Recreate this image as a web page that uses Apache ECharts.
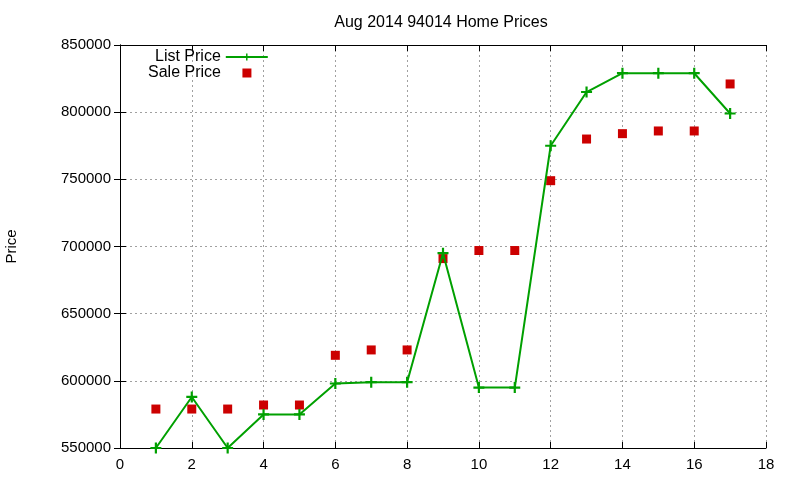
<!DOCTYPE html>
<html><head><meta charset="utf-8">
<script src="https://cdn.jsdelivr.net/npm/echarts@6/dist/echarts.min.js"></script>
<style>html,body{margin:0;padding:0;background:#fff}#c{width:800px;height:480px}</style>
</head><body><div id="c"></div>
<script>
const xs = [1,2,3,4,5,6,7,8,9,10,11,12,13,14,15,16,17];
const listPrice = [550000,588000,550000,575000,575000,598000,599000,599000,695000,595000,595000,775000,815000,829000,829000,829000,799000];
const salePrice = [579000,579000,579000,582000,582000,619000,623000,623000,691000,697000,697000,749000,780000,784000,786000,786000,821000];
const xTicks = {min:0, max:18, interval:2};
const yTicks = {min:550000, max:850000, interval:50000};

const font = 'Liberation Sans, Arial, sans-serif';
const plus = 'path://M-1,-5H1V-1H5V1H1V5H-1V1H-5V-1H-1Z';
const square = 'path://M0,0H1V1H0Z';
const chart = echarts.init(document.getElementById('c'), null, {renderer:'canvas'});
const axLine = {show:true, lineStyle:{color:'#000', width:1}};
const tick = {show:true, inside:true, length:6, lineStyle:{color:'#000'}};
chart.setOption({
  animation:false,
  title:{text:'Aug 2014 94014 Home Prices', left:436, top:10, textAlign:'center',
    textStyle:{fontFamily:font, fontSize:16, fontWeight:'normal', color:'#000'}},
  legend:[
    {data:[{name:'List Price'}], left:150, top:44, align:'right', itemWidth:42, itemHeight:9, itemGap:6, itemGap:7,
     textStyle:{fontFamily:font, fontSize:16, color:'#000'}},
    {data:[{name:'Sale Price', icon:square}], left:143, top:60, align:'right', itemWidth:42, itemHeight:9,
     textStyle:{fontFamily:font, fontSize:16, color:'#000'}}
  ],
  grid:{left:120, right:34, top:45, bottom:32, outerBoundsMode:'none', containLabel:false},
  xAxis:[
    {type:'value', min:xTicks.min, max:xTicks.max, interval:xTicks.interval, axisLine:axLine, axisTick:tick,
     axisLabel:{fontFamily:font, fontSize:15, color:'#000', margin:9},
     splitLine:{show:true, lineStyle:{color:'#a0a0a0', type:[2,3], width:1}}},
    {type:'value', position:'top', min:xTicks.min, max:xTicks.max, interval:xTicks.interval, axisLine:axLine, axisTick:tick,
     axisLabel:{show:false}, splitLine:{show:false}}
  ],
  yAxis:[
    {type:'value', min:yTicks.min, max:yTicks.max, interval:yTicks.interval, axisLine:axLine, axisTick:tick,
     name:'Price', nameLocation:'middle', nameGap:101, nameTextStyle:{fontFamily:font, fontSize:15, color:'#000'},
     axisLabel:{fontFamily:font, fontSize:15, color:'#000', margin:9, formatter:v=>String(v)},
     splitLine:{show:true, lineStyle:{color:'#a0a0a0', type:[2,3], width:1}}},
    {type:'value', position:'right', min:yTicks.min, max:yTicks.max, interval:yTicks.interval, axisLine:axLine, axisTick:tick,
     axisLabel:{show:false}, splitLine:{show:false}}
  ],
  series:[
    {name:'List Price', type:'line', data:xs.map((x,i)=>[x,listPrice[i]]), symbol:plus, symbolSize:11,
     showAllSymbol:true, clip:false, lineStyle:{color:'#00a000', width:2}, itemStyle:{color:'#00a000'}, z:3},
    {name:'Sale Price', type:'scatter', data:xs.map((x,i)=>[x,salePrice[i]]), symbol:'rect', symbolSize:9,
     itemStyle:{color:'#cc0000', opacity:1}, z:2}
  ]
});
</script></body></html>
